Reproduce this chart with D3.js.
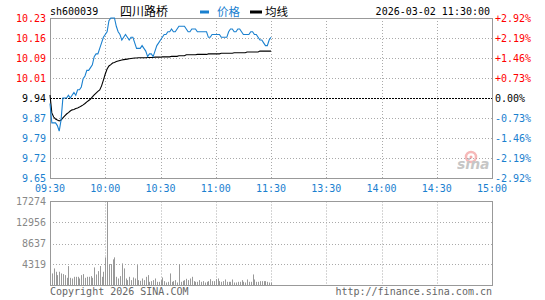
<!DOCTYPE html>
<html><head><meta charset="utf-8">
<script src="https://cdn.jsdelivr.net/npm/d3@7"></script>
<style>
html,body{margin:0;padding:0;background:#fff;}
svg{display:block;}
text{font-family:"DejaVu Sans Mono",monospace;font-size:10px;}
</style></head>
<body>
<svg id="c" width="545" height="300"></svg>
<script>
// ---- data ----
const symbol = "sh600039";
const stockName = "四川路桥";
const dateTime = "2026-03-02 11:30:00";
const prevClose = 9.94;
const timeLabels = ["09:30","10:00","10:30","11:00","11:30","13:30","14:00","14:30","15:00"];
const priceLabels = ["10.23","10.16","10.09","10.01","9.94","9.87","9.79","9.72","9.65"];
const pctLabels = ["+2.92%","+2.19%","+1.46%","+0.73%","0.00%","-0.73%","-1.46%","-2.19%","-2.92%"];
const volLabels = ["17274","12956","8637","4319"];
const volMax = 17274;
// minute-by-minute price 09:30 .. 11:30
const price = [9.92,9.85,9.85,9.85,9.84,9.82,9.86,9.94,9.94,9.94,
9.95,9.94,9.95,9.96,9.95,9.97,9.97,9.98,10.01,10.02,
10.04,10.04,10.05,10.06,10.09,10.10,10.10,10.12,10.14,10.16,
10.17,10.18,10.22,10.23,10.23,10.23,10.20,10.18,10.17,10.15,
10.16,10.17,10.16,10.15,10.16,10.16,10.14,10.12,10.12,10.12,
10.13,10.12,10.11,10.09,10.10,10.10,10.09,10.11,10.13,10.14,
10.15,10.16,10.17,10.17,10.18,10.18,10.19,10.18,10.18,10.19,
10.20,10.20,10.20,10.20,10.19,10.18,10.18,10.19,10.19,10.19,
10.18,10.18,10.18,10.18,10.18,10.18,10.16,10.16,10.17,10.17,
10.17,10.17,10.17,10.16,10.16,10.16,10.16,10.18,10.19,10.19,
10.18,10.18,10.19,10.19,10.18,10.17,10.17,10.17,10.17,10.18,
10.18,10.17,10.17,10.16,10.15,10.15,10.14,10.13,10.13,10.15,10.16];
// average price line
const avgPrice = [9.951,9.886,9.871,9.864,9.860,9.857,9.860,9.868,9.875,9.882,
9.887,9.893,9.897,9.898,9.902,9.904,9.907,9.911,9.915,9.920,
9.926,9.931,9.936,9.944,9.951,9.958,9.964,9.969,9.984,10.005,
10.027,10.045,10.056,10.061,10.067,10.069,10.072,10.074,10.076,10.078,
10.079,10.080,10.081,10.082,10.083,10.084,10.085,10.085,10.086,10.086,
10.086,10.086,10.086,10.087,10.087,10.087,10.087,10.088,10.088,10.088,
10.088,10.089,10.089,10.089,10.089,10.089,10.091,10.091,10.091,10.091,
10.093,10.093,10.093,10.093,10.097,10.097,10.097,10.097,10.097,10.097,
10.098,10.098,10.098,10.098,10.098,10.098,10.100,10.100,10.100,10.100,
10.100,10.100,10.100,10.102,10.102,10.102,10.102,10.102,10.102,10.102,
10.104,10.104,10.104,10.104,10.104,10.104,10.104,10.107,10.107,10.107,
10.107,10.107,10.107,10.107,10.110,10.110,10.110,10.110,10.110,10.110,10.110];
// minute volume
const volume = [757,2478,3510,2822,2133,2822,2478,2340,2133,1583,
3992,1583,1445,1789,1789,1789,1445,2133,2340,1583,
1789,1789,1927,1583,3716,2271,2959,4000,1789,2822,
5781,17274,4400,4400,5372,5785,1789,1445,1927,4545,
3512,1445,1101,1789,1101,1652,1445,4194,1101,963,
1445,1101,1789,2133,757,895,1101,1445,757,757,
1101,1652,895,619,757,2478,757,895,1101,619,
4404,757,963,1101,1376,1101,1445,1789,895,757,
757,1101,757,895,619,757,895,1308,895,895,
1308,1445,895,757,895,1239,757,757,757,1239,
619,619,757,757,1101,757,619,1239,757,757,
2271,1239,757,757,895,895,895,895,757,619,619];

// ---- layout ----
const L = 50, R = 492, PT = 18, PB = 178, VT = 201.5, VB = 285.5;
const blue = "#1a80cf", red = "#f00", grid = "#aaa", border = "#999";
const svg = d3.select("#c");

const x = d3.scaleLinear().domain([0, 240]).range([L, R]);
const step = 0.0725;
const y = d3.scaleLinear().domain([prevClose - 4*step, prevClose + 4*step]).range([PB, PT]);
const yv = d3.scaleLinear().domain([0, volMax]).range([VB, VT]);
const px = v => Math.round(v) + 0.5;

// header
svg.append("text").attr("x", 50).attr("y", 15).attr("fill", "#000").text(symbol);
svg.append("text").attr("x", 120).attr("y", 16).attr("fill", "#000")
  .style("font-family", "'Noto Sans CJK SC'").style("font-size", "12px").text(stockName);
svg.append("rect").attr("x", 200).attr("y", 10.5).attr("width", 9).attr("height", 3).attr("fill", blue);
svg.append("text").attr("x", 217).attr("y", 16).attr("fill", blue)
  .style("font-family", "'Noto Sans CJK SC'").style("font-size", "11.5px").text("价格");
svg.append("rect").attr("x", 250).attr("y", 10.5).attr("width", 12).attr("height", 3).attr("fill", "#000");
svg.append("text").attr("x", 265).attr("y", 16).attr("fill", "#000")
  .style("font-family", "'Noto Sans CJK SC'").style("font-size", "11.5px").text("均线");
svg.append("text").attr("x", 490).attr("y", 15).attr("text-anchor", "end").attr("fill", "#000").text(dateTime);

// grid lines (price)
const gTicks = d3.range(9).map(i => prevClose + (4 - i) * step);
svg.append("g").selectAll("line").data(gTicks.slice(1, 8).filter((d, i) => i !== 3)).join("line")
  .attr("x1", L).attr("x2", R).attr("y1", d => px(y(d))).attr("y2", d => px(y(d)))
  .attr("stroke", grid).attr("stroke-dasharray", "1,2");
const tTicks = d3.range(9).map(i => i * 30);
svg.append("g").selectAll("line").data(tTicks.slice(1, 8)).join("line")
  .attr("x1", d => px(x(d))).attr("x2", d => px(x(d))).attr("y1", PT).attr("y2", PB)
  .attr("stroke", grid).attr("stroke-dasharray", "1,2");
// previous close line
svg.append("line").attr("x1", L).attr("x2", R).attr("y1", px(y(prevClose))).attr("y2", px(y(prevClose)))
  .attr("stroke", "#000").attr("stroke-dasharray", "2,1");

// sina watermark
const wm = svg.append("g").attr("opacity", 0.55);
wm.append("circle").attr("cx", 471).attr("cy", 157).attr("r", 5).attr("fill", "none").attr("stroke", "#f08080").attr("stroke-width", 2.5);
wm.append("circle").attr("cx", 471).attr("cy", 157).attr("r", 1.5).attr("fill", "#e66");
wm.append("text").attr("x", 457).attr("y", 169).attr("fill", "#999")
  .style("font-family", "'DejaVu Sans'").style("font-size", "14px").style("font-weight", "bold").style("font-style", "italic").text("sina");

// price border
svg.append("rect").attr("x", L + 0.5).attr("y", PT + 0.5).attr("width", R - L).attr("height", PB - PT)
  .attr("fill", "none").attr("stroke", border);

// average line
svg.append("path").datum(avgPrice)
  .attr("d", d3.line().x((d, i) => x(i)).y(d => y(d)))
  .attr("fill", "none").attr("stroke", "#000").attr("stroke-width", 1.1);
// price line
svg.append("path").datum(price)
  .attr("d", d3.line().x((d, i) => x(i)).y(d => y(d)))
  .attr("fill", "none").attr("stroke", blue).attr("stroke-width", 1.1);

// axis labels
const colorFor = i => i < 4 ? red : (i === 4 ? "#000" : blue);
svg.append("g").selectAll("text").data(priceLabels).join("text")
  .attr("x", 46).attr("y", (d, i) => y(gTicks[i]) + 3.5).attr("text-anchor", "end")
  .attr("fill", (d, i) => colorFor(i)).text(d => d);
svg.append("g").selectAll("text").data(pctLabels).join("text")
  .attr("x", 495).attr("y", (d, i) => y(gTicks[i]) + 3.5)
  .attr("fill", (d, i) => colorFor(i)).text(d => d);
svg.append("g").selectAll("text").data(timeLabels).join("text")
  .attr("x", (d, i) => x(tTicks[i])).attr("y", 192).attr("text-anchor", "middle")
  .attr("fill", blue).text(d => d);

// volume grid
const vTicks = volLabels.map(Number);
svg.append("g").selectAll("line").data(vTicks.slice(1)).join("line")
  .attr("x1", L).attr("x2", R).attr("y1", d => px(yv(d))).attr("y2", d => px(yv(d)))
  .attr("stroke", grid).attr("stroke-dasharray", "1,2");
svg.append("g").selectAll("line").data(tTicks.slice(1, 8)).join("line")
  .attr("x1", d => px(x(d))).attr("x2", d => px(x(d))).attr("y1", VT).attr("y2", VB)
  .attr("stroke", grid).attr("stroke-dasharray", "1,2");
// volume bars
svg.append("g").selectAll("line").data(volume).join("line")
  .attr("x1", (d, i) => px(x(i))).attr("x2", (d, i) => px(x(i)))
  .attr("y1", VB).attr("y2", d => yv(d))
  .attr("stroke", "#999").attr("stroke-width", 1);
svg.append("rect").attr("x", L + 0.5).attr("y", VT).attr("width", R - L).attr("height", VB - VT)
  .attr("fill", "none").attr("stroke", border);
svg.append("g").selectAll("text").data(volLabels).join("text")
  .attr("x", 46).attr("y", d => yv(+d) + 3.5).attr("text-anchor", "end")
  .attr("fill", "#888").text(d => d);

// footer
svg.append("text").attr("x", 50).attr("y", 295).attr("fill", "#666").text("Copyright 2026 SINA.COM");
svg.append("text").attr("x", 492).attr("y", 295).attr("text-anchor", "end").attr("fill", "#666").text("http://finance.sina.com.cn");
</script>
</body></html>
